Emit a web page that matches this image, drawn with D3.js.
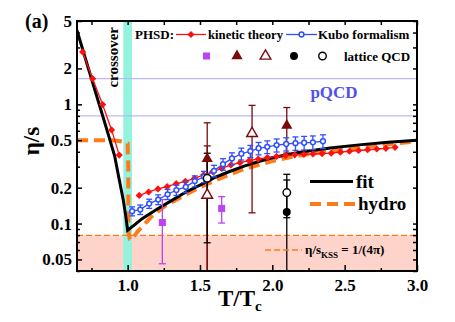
<!DOCTYPE html>
<html>
<head>
<meta charset="utf-8">
<script src="https://cdn.jsdelivr.net/npm/d3@7/dist/d3.min.js"></script>
<style>
  body { margin: 0; background: #fff; }
  text { font-family: 'Liberation Serif', 'Times New Roman', serif; font-weight: bold; }
</style>
</head>
<body>
<svg width="455" height="322"></svg>
<script>
// fit curve
const fitT = [0.65, 0.75, 0.85, 0.91, 0.94, 0.97, 0.985, 1.0, 1.05, 1.1, 1.2, 1.3, 1.4, 1.5, 1.6, 1.7, 1.8, 1.9, 2.0, 2.1, 2.2, 2.4, 2.6, 2.8, 3.0];
const fitV = [4.16, 1.64, 0.65, 0.37, 0.24, 0.157, 0.12, 0.088, 0.098, 0.11, 0.131, 0.155, 0.183, 0.21, 0.243, 0.272, 0.302, 0.33, 0.356, 0.378, 0.398, 0.43, 0.457, 0.48, 0.5];

// hydro curve
const hydroT = [0.65, 0.89, 0.95, 1.0, 1.004, 1.006, 1.015, 1.027, 1.07, 1.13, 1.176, 1.268, 1.33, 1.45, 1.55, 1.66, 1.8, 2.0, 2.12, 2.3, 2.46, 2.7, 3.0];
const hydroV = [0.5, 0.5, 0.49, 0.47, 0.3, 0.085, 0.074, 0.073, 0.086, 0.103, 0.118, 0.143, 0.157, 0.188, 0.215, 0.245, 0.285, 0.335, 0.36, 0.39, 0.412, 0.45, 0.49];

// PHSD kinetic theory (two branches)
const kinLowT = [0.689, 0.758, 0.827, 0.889, 0.942];
const kinLowV = [2.75, 1.64, 0.995, 0.61, 0.375];
const kinHighT = [1.08, 1.145, 1.21, 1.273, 1.336, 1.399, 1.462, 1.525, 1.588, 1.651, 1.714, 1.777, 1.84, 1.903, 1.966, 2.029, 2.092, 2.155, 2.218, 2.281, 2.344, 2.407, 2.47, 2.533, 2.596, 2.659, 2.722, 2.785, 2.848];
const kinHighV = [0.172, 0.184, 0.195, 0.204, 0.216, 0.226, 0.239, 0.256, 0.272, 0.29, 0.31, 0.324, 0.337, 0.348, 0.358, 0.366, 0.372, 0.377, 0.381, 0.384, 0.386, 0.389, 0.397, 0.404, 0.41, 0.416, 0.422, 0.428, 0.436];

// PHSD Kubo formalism
const kuboT = [1.031, 1.087, 1.149, 1.211, 1.276, 1.337, 1.402, 1.464, 1.528, 1.597, 1.659, 1.721, 1.786, 1.848, 1.905, 1.965, 2.03, 2.096, 2.16, 2.22, 2.28, 2.35];
const kuboV = [0.127, 0.131, 0.147, 0.159, 0.176, 0.191, 0.203, 0.227, 0.247, 0.277, 0.315, 0.352, 0.385, 0.405, 0.428, 0.44, 0.455, 0.465, 0.472, 0.476, 0.48, 0.49];
const kuboErr = [0.011, 0.012, 0.013, 0.015, 0.017, 0.019, 0.021, 0.024, 0.027, 0.031, 0.035, 0.04, 0.044, 0.047, 0.051, 0.054, 0.057, 0.059, 0.061, 0.062, 0.063, 0.065];

// lattice QCD
const sqT = [1.24, 1.65], sqV = [0.102, 0.134], sqLo = [0.046, 0.101], sqHi = [0.159, 0.168];
const triT = [1.55, 2.1], triV = [0.35, 0.665], triLo = [0.03, 0.39], triHi = [0.7, 0.94];
const otriT = [1.55, 1.86], otriV = [0.173, 0.57], otriLo = [0.03, 0.123], otriHi = [0.448, 0.98];
const dotT = [2.1], dotV = [0.125], dotLo = [0.03], dotHi = [0.232];
const odotT = [1.55, 2.1], odotV = [0.24, 0.182], odotLo = [0.069, 0.112], odotHi = [0.389, 0.259];

const kss = 1 / (4 * Math.PI);
const pqcd = [0.8, 1.64];
const crossover = [0.97, 1.03];
const xTicks = [1.0, 1.5, 2.0, 2.5, 3.0];
const xMinor = [0.75, 1.25, 1.75, 2.25, 2.75];
const yTicks = [0.05, 0.1, 0.2, 0.5, 1, 2, 5];
const yMinor = [0.04, 0.06, 0.07, 0.08, 0.09, 0.3, 0.4, 0.6, 0.7, 0.8, 0.9, 3, 4];

const svg = d3.select('svg');
const margin = {top: 21, right: 38, bottom: 51, left: 77};
const width = 455, height = 322;
const x = d3.scaleLinear().domain([0.65, 3.0]).range([margin.left, width - margin.right]);
const y = d3.scaleLog().domain([0.04, 5]).range([height - margin.bottom, margin.top]);

const red = '#ff1010', blue = '#2f4fff', orange = '#ff7a1a', dred = '#7a0a0a', purple = '#bb44ee';

svg.append('defs').append('clipPath').attr('id', 'clip')
  .append('rect').attr('x', x.range()[0]).attr('y', y.range()[1])
  .attr('width', x.range()[1] - x.range()[0]).attr('height', y.range()[0] - y.range()[1]);

const plot = svg.append('g').attr('clip-path', 'url(#clip)');

// shaded regions
plot.append('rect')
  .attr('x', x(0.65)).attr('y', y(kss))
  .attr('width', x(3.0) - x(0.65)).attr('height', y(0.04) - y(kss))
  .attr('fill', '#fdd3ca');
plot.append('rect')
  .attr('x', x(crossover[0])).attr('y', y(5))
  .attr('width', x(crossover[1]) - x(crossover[0])).attr('height', y(0.04) - y(5))
  .attr('fill', '#94f3dc');

plot.selectAll('.pqcd').data(pqcd).enter().append('line')
  .attr('x1', x(0.65)).attr('x2', x(3.0))
  .attr('y1', d => y(d)).attr('y2', d => y(d))
  .attr('stroke', '#b9b9f5').attr('stroke-width', 1.2);

plot.append('line')
  .attr('x1', x(0.65)).attr('x2', x(3.0))
  .attr('y1', y(kss)).attr('y2', y(kss))
  .attr('stroke', orange).attr('stroke-width', 1.3).attr('stroke-dasharray', '6,3');

const line = d3.line().x(d => x(d[0])).y(d => y(d[1]));

plot.append('path')
  .attr('d', line(d3.zip(hydroT, hydroV)))
  .attr('fill', 'none').attr('stroke', orange).attr('stroke-width', 4)
  .attr('stroke-dasharray', '11,6');

plot.append('path')
  .attr('d', line(d3.zip(fitT, fitV)))
  .attr('fill', 'none').attr('stroke', '#000').attr('stroke-width', 3);

// error bar helper
const errBars = (g, T, lo, hi, color, cap) => {
  T.forEach((t, i) => {
    g.append('line').attr('x1', x(t)).attr('x2', x(t))
      .attr('y1', y(lo[i])).attr('y2', y(hi[i]))
      .attr('stroke', color).attr('stroke-width', 1.3);
    [lo[i], hi[i]].forEach(v => {
      g.append('line').attr('x1', x(t) - cap).attr('x2', x(t) + cap)
        .attr('y1', y(v)).attr('y2', y(v))
        .attr('stroke', color).attr('stroke-width', 1.3);
    });
  });
};

// lattice QCD
errBars(plot, sqT, sqLo, sqHi, purple, 3.5);
errBars(plot, triT, triLo, triHi, dred, 3.5);
errBars(plot, otriT, otriLo, otriHi, dred, 3.5);
errBars(plot, odotT, odotLo, odotHi, '#000', 3.5);
errBars(plot, dotT, dotLo, dotHi, '#000', 3.5);

// kinetic theory
[[kinLowT, kinLowV], [kinHighT, kinHighV]].forEach(([T, V]) => {
  plot.append('path').attr('d', line(d3.zip(T, V)))
    .attr('fill', 'none').attr('stroke', red).attr('stroke-width', 1.3);
  plot.selectAll(null).data(d3.zip(T, V)).enter().append('path')
    .attr('d', d3.symbol(d3.symbolSquare, 26))
    .attr('transform', d => `translate(${x(d[0])},${y(d[1])}) rotate(45)`)
    .attr('fill', red);
});

// Kubo formalism
plot.append('path').attr('d', line(d3.zip(kuboT, kuboV)))
  .attr('fill', 'none').attr('stroke', blue).attr('stroke-width', 1.3);
errBars(plot, kuboT, kuboV.map((v, i) => v - kuboErr[i]), kuboV.map((v, i) => v + kuboErr[i]), blue, 3);
plot.selectAll('.kubo').data(d3.zip(kuboT, kuboV)).enter().append('circle')
  .attr('cx', d => x(d[0])).attr('cy', d => y(d[1])).attr('r', 2.4)
  .attr('fill', '#fff').attr('stroke', blue).attr('stroke-width', 1.5);

// lattice markers
const sym = (g, T, V, type, size, fill, stroke) => {
  g.selectAll(null).data(d3.zip(T, V)).enter().append('path')
    .attr('d', d3.symbol(type, size))
    .attr('transform', d => `translate(${x(d[0])},${y(d[1])})`)
    .attr('fill', fill).attr('stroke', stroke).attr('stroke-width', 1.4);
};
sym(plot, sqT, sqV, d3.symbolSquare, 50, purple, 'none');
sym(plot, triT, triV, d3.symbolTriangle, 55, dred, 'none');
sym(plot, otriT, otriV, d3.symbolTriangle, 50, '#fff', dred);
sym(plot, dotT, dotV, d3.symbolCircle, 50, '#000', 'none');
sym(plot, odotT, odotV, d3.symbolCircle, 45, '#fff', '#000');

// axes with inward ticks
const axes = svg.append('g');
const styleAxis = g => {
  g.select('.domain').remove();
  g.selectAll('.tick line').attr('stroke', '#000').attr('stroke-width', 1.5);
  g.selectAll('text').attr('font-size', 17).attr('fill', '#000')
    .style('font-family', "'Liberation Serif', serif").style('font-weight', 'bold');
};
axes.append('g').attr('transform', `translate(0,${y.range()[0]})`)
  .call(d3.axisBottom(x).tickValues(xTicks).tickFormat(d3.format('.1f')).tickSizeInner(-6).tickSizeOuter(0).tickPadding(8))
  .call(styleAxis);
axes.append('g').attr('transform', `translate(0,${y.range()[0]})`)
  .call(d3.axisBottom(x).tickValues(xMinor).tickFormat('').tickSizeInner(-3).tickSizeOuter(0))
  .call(styleAxis);
axes.append('g').attr('transform', `translate(0,${y.range()[1]})`)
  .call(d3.axisTop(x).tickValues(xTicks.concat(xMinor)).tickFormat('').tickSizeInner(-4).tickSizeOuter(0))
  .call(styleAxis);
axes.append('g').attr('transform', `translate(${x.range()[0]},0)`)
  .call(d3.axisLeft(y).tickValues(yTicks).tickFormat(d => String(d)).tickSizeInner(-5).tickSizeOuter(0).tickPadding(5))
  .call(styleAxis);
axes.append('g').attr('transform', `translate(${x.range()[0]},0)`)
  .call(d3.axisLeft(y).tickValues(yMinor).tickFormat('').tickSizeInner(-3).tickSizeOuter(0))
  .call(styleAxis);
axes.append('g').attr('transform', `translate(${x.range()[1]},0)`)
  .call(d3.axisRight(y).tickValues(yTicks.concat(yMinor)).tickFormat('').tickSizeInner(-4).tickSizeOuter(0))
  .call(styleAxis);

svg.append('rect')
  .attr('x', x.range()[0]).attr('y', y.range()[1])
  .attr('width', x.range()[1] - x.range()[0]).attr('height', y.range()[0] - y.range()[1])
  .attr('fill', 'none').attr('stroke', '#000').attr('stroke-width', 2);

// labels
svg.append('text').attr('x', 25).attr('y', 28).attr('font-size', 20).text('(a)');
svg.append('text').attr('transform', 'translate(39,141) rotate(-90)')
  .attr('text-anchor', 'middle').attr('font-size', 23).text('η/s');
const xl = svg.append('text').attr('x', 218).attr('y', 306).attr('font-size', 23);
xl.append('tspan').text('T/T');
xl.append('tspan').attr('font-size', 15).attr('dy', 5).text('c');

svg.append('text').attr('transform', `translate(${x(0.97) - 5},27) rotate(-90)`)
  .attr('text-anchor', 'end').attr('font-size', 15).text('crossover');

svg.append('text').attr('x', 334).attr('y', 98).attr('text-anchor', 'middle')
  .attr('font-size', 17).attr('fill', '#5050ee').text('pQCD');

// legend top
const leg = svg.append('g');
leg.append('text').attr('x', 135).attr('y', 39).attr('font-size', 13).text('PHSD:');
leg.append('line').attr('x1', 176).attr('x2', 206).attr('y1', 34.5).attr('y2', 34.5)
  .attr('stroke', red).attr('stroke-width', 1.3);
leg.append('path').attr('d', d3.symbol(d3.symbolSquare, 26))
  .attr('transform', 'translate(191,34.5) rotate(45)').attr('fill', red);
leg.append('text').attr('x', 208).attr('y', 39).attr('font-size', 12.7).text('kinetic theory');
leg.append('line').attr('x1', 286).attr('x2', 317).attr('y1', 34.5).attr('y2', 34.5)
  .attr('stroke', blue).attr('stroke-width', 1.3);
leg.append('circle').attr('cx', 301.5).attr('cy', 34.5).attr('r', 2.4)
  .attr('fill', '#fff').attr('stroke', blue).attr('stroke-width', 1.5);
leg.append('text').attr('x', 318).attr('y', 39).attr('font-size', 13).text('Kubo formalism');

const legSym = [
  [206.5, d3.symbolSquare, 50, purple, 'none'],
  [237, d3.symbolTriangle, 55, dred, 'none'],
  [265.5, d3.symbolTriangle, 50, '#fff', dred],
  [294, d3.symbolCircle, 50, '#000', 'none'],
  [322.5, d3.symbolCircle, 45, '#fff', '#000']
];
legSym.forEach(([lx, type, size, fill, stroke]) => {
  leg.append('path').attr('d', d3.symbol(type, size))
    .attr('transform', `translate(${lx},56)`)
    .attr('fill', fill).attr('stroke', stroke).attr('stroke-width', 1.4);
});
leg.append('text').attr('x', 344).attr('y', 61).attr('font-size', 13).text('lattice QCD');

// legend bottom right
leg.append('line').attr('x1', 310).attr('x2', 353).attr('y1', 181.5).attr('y2', 181.5)
  .attr('stroke', '#000').attr('stroke-width', 3);
leg.append('text').attr('x', 356).attr('y', 188).attr('font-size', 19).text('fit');
leg.append('line').attr('x1', 310).attr('x2', 355).attr('y1', 204).attr('y2', 204)
  .attr('stroke', orange).attr('stroke-width', 4).attr('stroke-dasharray', '11,6');
leg.append('text').attr('x', 358).attr('y', 210).attr('font-size', 19).text('hydro');
leg.append('line').attr('x1', 265).attr('x2', 302).attr('y1', 250).attr('y2', 250)
  .attr('stroke', orange).attr('stroke-width', 1.3).attr('stroke-dasharray', '6,3');
const kt = leg.append('text').attr('x', 305).attr('y', 254).attr('font-size', 13);
kt.append('tspan').text('η/s');
kt.append('tspan').attr('font-size', 9).attr('dy', 4).text('KSS');
kt.append('tspan').attr('dy', -4).text(' = 1/(4π)');
</script>
</body>
</html>
